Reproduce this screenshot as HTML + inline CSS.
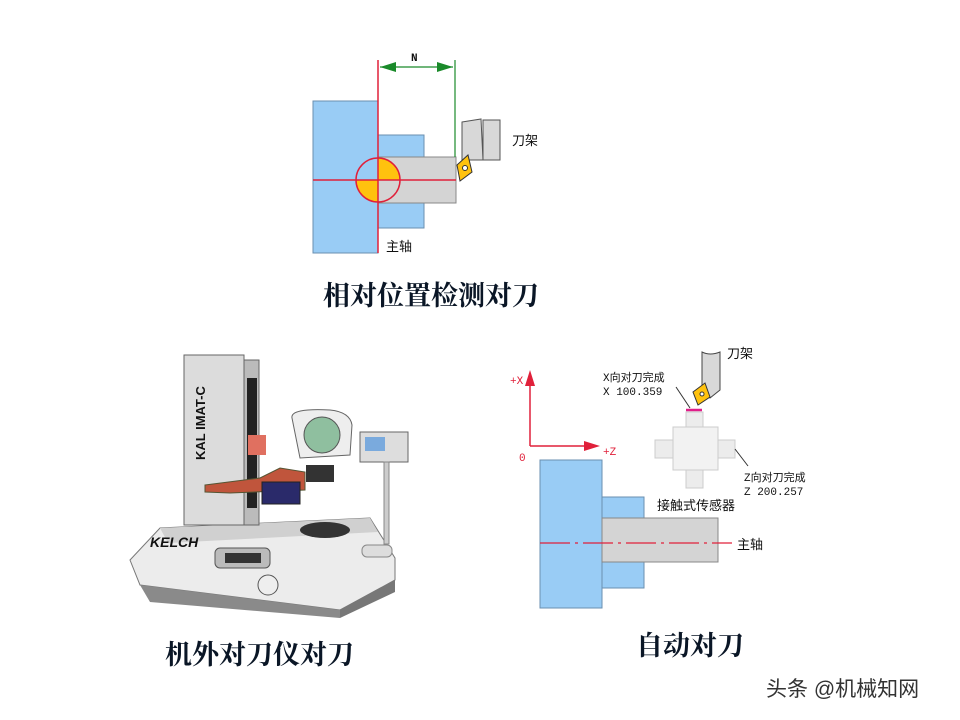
<!DOCTYPE html>
<html><head><meta charset="utf-8"><style>
html,body{margin:0;padding:0;background:#fff;}
svg{display:block;}
.t{font-family:"Liberation Serif","Noto Serif CJK SC",serif;fill:#0a1626;font-size:27px;font-weight:bold;}
.s{font-family:"Liberation Sans","Noto Sans CJK SC",sans-serif;fill:#111;font-size:13px;}
.m{font-family:"Liberation Mono","Noto Sans CJK SC",monospace;fill:#111;font-size:11px;}
</style></head><body>
<svg width="960" height="720" viewBox="0 0 960 720" xmlns="http://www.w3.org/2000/svg">
<!-- Top diagram -->
<rect x="313" y="101" width="65" height="152" fill="#99ccf5" stroke="#6a8fb0"/>
<rect x="378" y="135" width="46" height="93" fill="#99ccf5" stroke="#6a8fb0"/>
<rect x="378" y="157" width="78" height="46" fill="#d4d4d4" stroke="#888"/>
<path d="M378,158 A22,22 0 0 1 400,180 L378,180 Z" fill="#ffc20e"/>
<path d="M378,180 L356,180 A22,22 0 0 0 378,202 Z" fill="#ffc20e"/>
<circle cx="378" cy="180" r="22" fill="none" stroke="#e0203a" stroke-width="1.5"/>
<line x1="378" y1="60" x2="378" y2="253" stroke="#e0203a" stroke-width="1.5"/>
<line x1="313" y1="180" x2="456" y2="180" stroke="#e0203a" stroke-width="1.5"/>
<line x1="455" y1="60" x2="455" y2="157" stroke="#1a8a2a" stroke-width="1.2"/>
<line x1="380" y1="67" x2="453" y2="67" stroke="#1a8a2a" stroke-width="1.2"/>
<polygon points="380,67 396,62 396,72" fill="#1a8a2a"/>
<polygon points="453,67 437,62 437,72" fill="#1a8a2a"/>
<text x="411" y="61" class="m" font-weight="bold">N</text>
<polygon points="462,122 481,119 483,160 462,160" fill="#d8d8d8" stroke="#555"/>
<rect x="483" y="120" width="17" height="40" fill="#d8d8d8" stroke="#555"/>
<polygon points="457,165 468,155 472,172 460,181" fill="#ffc20e" stroke="#333"/>
<circle cx="465" cy="168" r="2.5" fill="#fff" stroke="#333"/>
<text x="512" y="145" class="s">刀架</text>
<text x="386" y="251" class="s">主轴</text>
<text x="323" y="305" class="t">相对位置检测对刀</text>

<!-- Right diagram -->
<line x1="530" y1="446" x2="530" y2="378" stroke="#e0203a" stroke-width="1.5"/>
<polygon points="530,370 525,386 535,386" fill="#e0203a"/>
<line x1="530" y1="446" x2="590" y2="446" stroke="#e0203a" stroke-width="1.5"/>
<polygon points="600,446 584,441 584,451" fill="#e0203a"/>
<text x="510" y="384" class="m" style="fill:#e0203a">+X</text>
<text x="519" y="461" class="m" style="fill:#e0203a">0</text>
<text x="603" y="455" class="m" style="fill:#e0203a">+Z</text>
<rect x="540" y="460" width="62" height="148" fill="#99ccf5" stroke="#6a8fb0"/>
<rect x="602" y="497" width="42" height="91" fill="#99ccf5" stroke="#6a8fb0"/>
<rect x="602" y="518" width="116" height="44" fill="#d4d4d4" stroke="#888"/>
<line x1="540" y1="543" x2="732" y2="543" stroke="#e0203a" stroke-width="1.2" stroke-dasharray="30,5,3,5"/>
<text x="737" y="549" class="s">主轴</text>
<!-- sensor -->
<rect x="686" y="412" width="17" height="76" fill="#ececec" stroke="#ccc"/>
<rect x="655" y="440" width="80" height="18" fill="#ececec" stroke="#ccc"/>
<rect x="673" y="427" width="45" height="43" fill="#f2f2f2" stroke="#ccc"/>
<line x1="686" y1="410" x2="702" y2="410" stroke="#e01e8a" stroke-width="2.5"/>
<path d="M702,352 Q710,356 720,352 L720,390 L710,398 L702,392 Z" fill="#d8d8d8" stroke="#444"/>
<polygon points="693,392 705,383 710,397 698,405" fill="#ffc20e" stroke="#333"/>
<circle cx="702" cy="394" r="2" fill="#fff" stroke="#333"/>
<line x1="676" y1="387" x2="690" y2="408" stroke="#333"/>
<line x1="735" y1="449" x2="748" y2="466" stroke="#333"/>
<text x="727" y="358" class="s" font-size="12">刀架</text>
<text x="603" y="381" class="m">X向对刀完成</text>
<text x="603" y="395" class="m">X 100.359</text>
<text x="744" y="481" class="m">Z向对刀完成</text>
<text x="744" y="495" class="m">Z 200.257</text>
<text x="657" y="510" class="s" font-size="12">接触式传感器</text>
<text x="636" y="655" class="t">自动对刀</text>

<!-- Kelch machine -->
<polygon points="130,560 160,528 370,518 395,558 395,580 340,610 140,585" fill="#ececec" stroke="#777"/>
<polygon points="160,528 370,518 378,532 168,543" fill="#d0d0d0"/>
<polygon points="140,585 340,610 340,618 150,602" fill="#8a8a8a"/>
<polygon points="340,610 395,580 395,592 340,618" fill="#777"/>
<rect x="184" y="355" width="60" height="170" fill="#dcdcdc" stroke="#666"/>
<rect x="244" y="360" width="15" height="165" fill="#bbb" stroke="#666"/>
<rect x="247" y="378" width="10" height="130" fill="#222"/>
<text transform="translate(205,460) rotate(-90)" font-family="Liberation Sans" font-weight="bold" font-size="13" fill="#111">KAL IMAT-C</text>
<rect x="248" y="435" width="18" height="20" fill="#e07060"/>
<path d="M205,485 L260,478 L280,468 L305,472 L305,490 L230,493 L205,492 Z" fill="#c0553c" stroke="#553"/>
<rect x="262" y="482" width="38" height="22" fill="#2a2a6a" stroke="#222"/>
<path d="M292,418 Q290,408 330,410 Q350,412 352,425 L350,455 L300,458 Z" fill="#eee" stroke="#666"/>
<circle cx="322" cy="435" r="18" fill="#8fbf9f" stroke="#555"/>
<rect x="306" y="465" width="28" height="17" fill="#333"/>
<rect x="360" y="432" width="48" height="30" fill="#ddd" stroke="#666"/>
<rect x="365" y="437" width="20" height="14" fill="#7aaadd"/>
<rect x="384" y="462" width="5" height="82" fill="#ccc" stroke="#888"/>
<rect x="362" y="545" width="30" height="12" rx="5" fill="#ddd" stroke="#888"/>
<ellipse cx="325" cy="530" rx="25" ry="8" fill="#333"/>
<text x="150" y="547" font-family="Liberation Sans" font-style="italic" font-weight="bold" font-size="14" fill="#111">KELCH</text>
<rect x="215" y="548" width="55" height="20" rx="5" fill="#bbb" stroke="#555"/>
<rect x="225" y="553" width="36" height="10" fill="#333"/>
<circle cx="268" cy="585" r="10" fill="#eee" stroke="#555"/>
<text x="165" y="664" class="t">机外对刀仪对刀</text>

<text x="766" y="696" font-family="Liberation Sans,Noto Sans CJK SC,sans-serif" font-size="21" fill="#333">头条 @机械知网</text>
</svg>
</body></html>
